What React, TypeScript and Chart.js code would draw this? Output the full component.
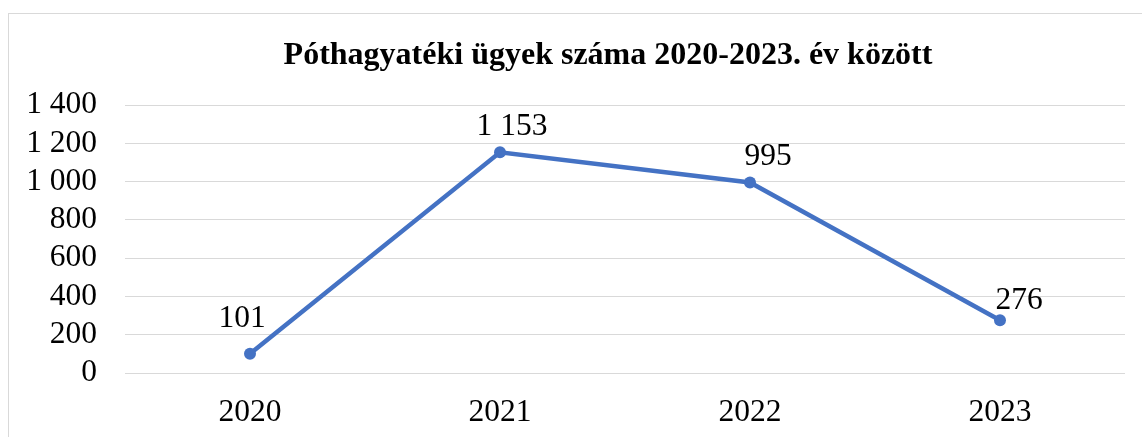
import React, { useEffect, useRef } from "react";
import { Chart, registerables } from "chart.js";

Chart.register(...registerables);

const years = ["2020", "2021", "2022", "2023"];
const cases = [101, 1153, 995, 276];
const yTicks = [0, 200, 400, 600, 800, 1000, 1200, 1400];
const titleText = "Póthagyatéki ügyek száma 2020-2023. év között";
// label placement relative to the point (px)
const labelDx = [-8, 12, 18, 19];
const labelDy = [27, 17, 18, 11];

const fmt = (v: number) => String(v).replace(/\B(?=(\d{3})+(?!\d))/g, " ");

const FONT = "'Liberation Serif', 'Times New Roman', serif";
const TICK_SIZE = 31.5;

const dataLabels = {
  id: "dataLabels",
  afterDatasetsDraw(chart: any) {
    const ctx = chart.ctx;
    const meta = chart.getDatasetMeta(0);
    ctx.save();
    ctx.font = `${TICK_SIZE}px ${FONT}`;
    ctx.fillStyle = "#000000";
    ctx.textAlign = "center";
    ctx.textBaseline = "alphabetic";
    meta.data.forEach((pt: any, i: number) => {
      ctx.fillText(fmt(cases[i]), pt.x + labelDx[i], pt.y - labelDy[i]);
    });
    ctx.restore();
  },
};

export default function App() {
  const ref = useRef<HTMLCanvasElement | null>(null);
  useEffect(() => {
    if (!ref.current) return;
    const chart = new Chart(ref.current, {
      type: "line",
      data: {
        labels: years,
        datasets: [
          {
            data: cases,
            yAxisID: "y",
            borderColor: "#4472C4",
            backgroundColor: "#4472C4",
            borderWidth: 4.5,
            pointRadius: 6,
            pointBorderWidth: 0,
            pointBackgroundColor: "#4472C4",
            tension: 0,
          },
        ],
      },
      options: {
        responsive: false,
        animation: false,
        layout: { padding: 0 },
        plugins: {
          legend: { display: false },
          tooltip: { enabled: false },
          title: {
            display: true,
            text: titleText,
            color: "#000000",
            font: { family: FONT, size: 32, weight: "bold" },
            padding: { top: 23, bottom: 29.6 },
          },
        },
        scales: {
          x: {
            offset: true,
            grid: { display: false, drawTicks: false },
            border: { display: false },
            ticks: {
              color: "#000000",
              font: { family: FONT, size: TICK_SIZE },
              padding: 21,
              maxRotation: 0,
              autoSkip: false,
            },
            afterFit: (s: any) => {
              s.height = 81;
            },
          },
          y: {
            position: "left",
            min: 0,
            max: 1400,
            afterBuildTicks: (s: any) => {
              s.ticks = yTicks.map((v) => ({ value: v }));
            },
            grid: { color: "#d9d9d9", lineWidth: 1, drawTicks: false },
            border: { display: false },
            ticks: {
              color: "#000000",
              font: { family: FONT, size: TICK_SIZE },
              padding: 28,
              autoSkip: false,
              callback: (v: any) => fmt(Number(v)),
            },
            afterFit: (s: any) => {
              s.width = 116;
            },
          },
          y2: {
            position: "right",
            display: true,
            min: 0,
            max: 1400,
            grid: { display: false, drawOnChartArea: false },
            border: { display: false },
            ticks: { display: false },
            afterFit: (s: any) => {
              s.width = 82;
            },
          },
        },
      },
      plugins: [dataLabels],
    });
    return () => chart.destroy();
  }, []);

  return (
    <div style={{ position: "fixed", inset: 0, overflow: "hidden", background: "#fff" }}>
      <div
        style={{
          position: "absolute",
          left: 8,
          top: 13,
          border: "1px solid #d9d9d9",
          width: 1198,
          height: 440,
        }}
      >
        <canvas ref={ref} width={1198} height={440} style={{ display: "block" }} />
      </div>
    </div>
  );
}
